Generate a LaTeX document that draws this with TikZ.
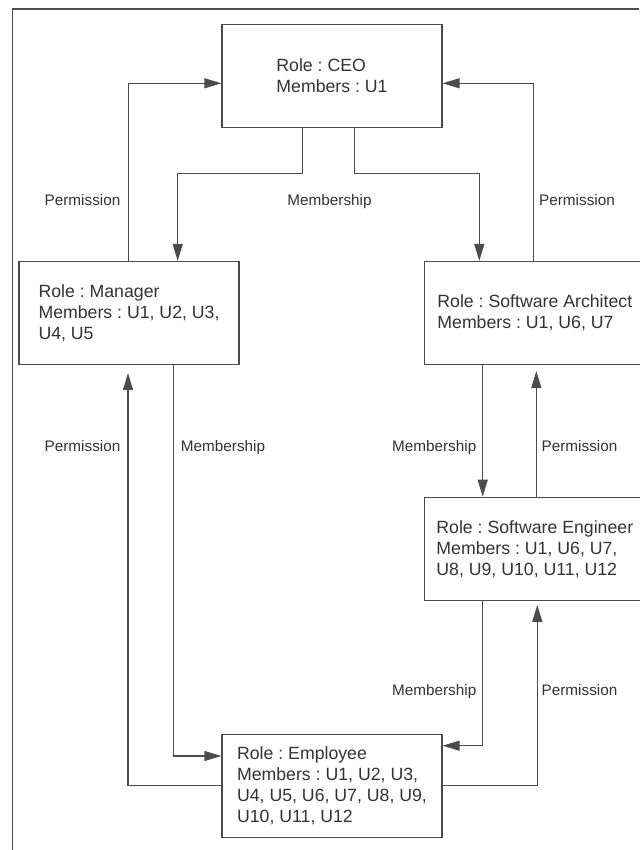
\documentclass[tikz,border=0pt]{standalone}
\usepackage{fontspec}
\setmainfont{Liberation Sans}
\usetikzlibrary{arrows.meta, positioning}
\frenchspacing

\begin{document}
\begin{tikzpicture}[x=1pt,y=-1pt,
    role/.style={draw=black!70, line width=1.2pt, rectangle, minimum width=220pt, minimum height=103pt, align=left, inner sep=0pt, text=black!80, font=\fontsize{17.7}{21}\selectfont},
    lbl/.style={anchor=base, inner sep=0pt, text=black!80, font=\fontsize{15.3}{18}\selectfont},
    link/.style={draw=black!70, line width=1.2pt, -{Triangle[length=17pt,width=10pt]}}]
    \useasboundingbox (0,0) rectangle (639,850);

    % Frame
    \draw[black!70, line width=1.2pt] (12.7,850) -- (12.7,9) -- (639,9);

    % Nodes
    \node (ceo) [role] at (332,75.8) {Role : CEO\\Members : U1};
    \node (mgr) [role] at (129,313) {Role : Manager\\Members : U1, U2, U3,\\U4, U5};
    \node (arch) [role, right of=mgr, node distance=405.8pt] {Role : Software Architect\\Members : U1, U6, U7};
    \node (eng) [role, below of=arch, node distance=235.8pt] {Role : Software Engineer\\Members : U1, U6, U7,\\U8, U9, U10, U11, U12};
    \node (emp) [role, below of=ceo, node distance=709.8pt] {Role : Employee\\Members : U1, U2, U3,\\U4, U5, U6, U7, U8, U9,\\U10, U11, U12};

    % Labels
    \node (perm1) [lbl] at (82.5,205.5) {Permission};
    \node (memb1) [lbl] at (329.5,205.5) {Membership};
    \node (perm2) [lbl] at (577,205.5) {Permission};
    \node (perm3) [lbl] at (82.5,451.2) {Permission};
    \node (memb2) [lbl] at (223,451.2) {Membership};
    \node (memb3) [lbl] at (434.2,451.2) {Membership};
    \node (perm4) [lbl] at (579.5,451.2) {Permission};
    \node (memb4) [lbl] at (434.2,695.5) {Membership};
    \node (perm5) [lbl] at (579.5,695.5) {Permission};

    % Permission connections
    \draw[link] ([xshift=-0.7pt]mgr.north) |- ([yshift=-7.5pt]ceo.west);
    \draw[link] ([xshift=-1pt]arch.north) |- ([yshift=-7.5pt]ceo.east);
    \draw[link, shorten >=8pt] (emp.west) -| ([xshift=-1pt]mgr.south);
    \draw[link, shorten >=6pt] ([xshift=1.5pt]eng.north) -- ([xshift=1.5pt]arch.south);
    \draw[link, shorten >=4pt] (emp.east) -| ([xshift=2.5pt]eng.south);

    % Membership connections
    \draw[link] ([xshift=-29.3pt]ceo.south) -- ++(0,46) -| ([xshift=48.7pt]mgr.north);
    \draw[link] ([xshift=22.3pt]ceo.south) -- ++(0,46) -| ([xshift=-55.5pt]arch.north);
    \draw[link] ([xshift=44.3pt]mgr.south) |- ([yshift=29.6pt]emp.west);
    \draw[link] ([xshift=-52.1pt]arch.south) -- ([xshift=-52.1pt]eng.north);
    \draw[link] ([xshift=-52.1pt]eng.south) |- ([yshift=39.9pt]emp.east);
\end{tikzpicture}
\end{document}
